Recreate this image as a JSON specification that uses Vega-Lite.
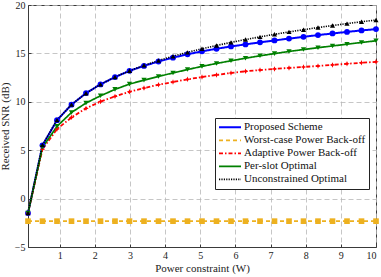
{
  "$schema": "https://vega.github.io/schema/vega-lite/v6.json",
  "width": 348,
  "height": 242,
  "autosize": {"type": "none"},
  "padding": {"left": 28, "top": 5, "right": 5, "bottom": 30},
  "background": "white",
  "config": {
    "font": "Liberation Serif",
    "view": {"stroke": "#3a3a3a", "strokeWidth": 1},
    "axis": {
      "domainColor": "#3a3a3a",
      "tickColor": "#3a3a3a",
      "gridColor": "#b8b8b8",
      "gridDash": [5, 3],
      "gridWidth": 0.8,
      "labelFont": "Liberation Serif",
      "labelFontSize": 10,
      "labelColor": "#222",
      "titleFont": "Liberation Serif",
      "titleFontSize": 11,
      "titleFontWeight": "normal",
      "titleColor": "#222",
      "tickSize": -3
    }
  },
  "data": {
    "values": [
      {"s": "Proposed Scheme", "p": 0.1, "snr": -1.5},
      {"s": "Proposed Scheme", "p": 0.5125, "snr": 5.5},
      {"s": "Proposed Scheme", "p": 0.925, "snr": 8.1},
      {"s": "Proposed Scheme", "p": 1.3375, "snr": 9.7},
      {"s": "Proposed Scheme", "p": 1.75, "snr": 10.9},
      {"s": "Proposed Scheme", "p": 2.1625, "snr": 11.8},
      {"s": "Proposed Scheme", "p": 2.575, "snr": 12.55},
      {"s": "Proposed Scheme", "p": 2.9875, "snr": 13.2},
      {"s": "Proposed Scheme", "p": 3.4, "snr": 13.71},
      {"s": "Proposed Scheme", "p": 3.8125, "snr": 14.16},
      {"s": "Proposed Scheme", "p": 4.225, "snr": 14.56},
      {"s": "Proposed Scheme", "p": 4.6375, "snr": 14.91},
      {"s": "Proposed Scheme", "p": 5.05, "snr": 15.21},
      {"s": "Proposed Scheme", "p": 5.4625, "snr": 15.48},
      {"s": "Proposed Scheme", "p": 5.875, "snr": 15.72},
      {"s": "Proposed Scheme", "p": 6.2875, "snr": 15.93},
      {"s": "Proposed Scheme", "p": 6.7, "snr": 16.14},
      {"s": "Proposed Scheme", "p": 7.1125, "snr": 16.34},
      {"s": "Proposed Scheme", "p": 7.525, "snr": 16.53},
      {"s": "Proposed Scheme", "p": 7.9375, "snr": 16.71},
      {"s": "Proposed Scheme", "p": 8.35, "snr": 16.89},
      {"s": "Proposed Scheme", "p": 8.7625, "snr": 17.06},
      {"s": "Proposed Scheme", "p": 9.175, "snr": 17.22},
      {"s": "Proposed Scheme", "p": 9.5875, "snr": 17.37},
      {"s": "Proposed Scheme", "p": 10, "snr": 17.51},
      {"s": "Worst-case Power Back-off", "p": 0.1, "snr": -2.33},
      {"s": "Worst-case Power Back-off", "p": 0.5125, "snr": -2.33},
      {"s": "Worst-case Power Back-off", "p": 0.925, "snr": -2.33},
      {"s": "Worst-case Power Back-off", "p": 1.3375, "snr": -2.33},
      {"s": "Worst-case Power Back-off", "p": 1.75, "snr": -2.33},
      {"s": "Worst-case Power Back-off", "p": 2.1625, "snr": -2.33},
      {"s": "Worst-case Power Back-off", "p": 2.575, "snr": -2.33},
      {"s": "Worst-case Power Back-off", "p": 2.9875, "snr": -2.33},
      {"s": "Worst-case Power Back-off", "p": 3.4, "snr": -2.33},
      {"s": "Worst-case Power Back-off", "p": 3.8125, "snr": -2.33},
      {"s": "Worst-case Power Back-off", "p": 4.225, "snr": -2.33},
      {"s": "Worst-case Power Back-off", "p": 4.6375, "snr": -2.33},
      {"s": "Worst-case Power Back-off", "p": 5.05, "snr": -2.33},
      {"s": "Worst-case Power Back-off", "p": 5.4625, "snr": -2.33},
      {"s": "Worst-case Power Back-off", "p": 5.875, "snr": -2.33},
      {"s": "Worst-case Power Back-off", "p": 6.2875, "snr": -2.33},
      {"s": "Worst-case Power Back-off", "p": 6.7, "snr": -2.33},
      {"s": "Worst-case Power Back-off", "p": 7.1125, "snr": -2.33},
      {"s": "Worst-case Power Back-off", "p": 7.525, "snr": -2.33},
      {"s": "Worst-case Power Back-off", "p": 7.9375, "snr": -2.33},
      {"s": "Worst-case Power Back-off", "p": 8.35, "snr": -2.33},
      {"s": "Worst-case Power Back-off", "p": 8.7625, "snr": -2.33},
      {"s": "Worst-case Power Back-off", "p": 9.175, "snr": -2.33},
      {"s": "Worst-case Power Back-off", "p": 9.5875, "snr": -2.33},
      {"s": "Worst-case Power Back-off", "p": 10, "snr": -2.33},
      {"s": "Adaptive Power Back-off", "p": 0.1, "snr": -1.5},
      {"s": "Adaptive Power Back-off", "p": 0.5125, "snr": 5.1},
      {"s": "Adaptive Power Back-off", "p": 0.925, "snr": 7.18},
      {"s": "Adaptive Power Back-off", "p": 1.3375, "snr": 8.39},
      {"s": "Adaptive Power Back-off", "p": 1.75, "snr": 9.32},
      {"s": "Adaptive Power Back-off", "p": 2.1625, "snr": 10.02},
      {"s": "Adaptive Power Back-off", "p": 2.575, "snr": 10.56},
      {"s": "Adaptive Power Back-off", "p": 2.9875, "snr": 11.03},
      {"s": "Adaptive Power Back-off", "p": 3.4, "snr": 11.42},
      {"s": "Adaptive Power Back-off", "p": 3.8125, "snr": 11.76},
      {"s": "Adaptive Power Back-off", "p": 4.225, "snr": 12.05},
      {"s": "Adaptive Power Back-off", "p": 4.6375, "snr": 12.32},
      {"s": "Adaptive Power Back-off", "p": 5.05, "snr": 12.56},
      {"s": "Adaptive Power Back-off", "p": 5.4625, "snr": 12.78},
      {"s": "Adaptive Power Back-off", "p": 5.875, "snr": 12.98},
      {"s": "Adaptive Power Back-off", "p": 6.2875, "snr": 13.15},
      {"s": "Adaptive Power Back-off", "p": 6.7, "snr": 13.28},
      {"s": "Adaptive Power Back-off", "p": 7.1125, "snr": 13.4},
      {"s": "Adaptive Power Back-off", "p": 7.525, "snr": 13.5},
      {"s": "Adaptive Power Back-off", "p": 7.9375, "snr": 13.6},
      {"s": "Adaptive Power Back-off", "p": 8.35, "snr": 13.7},
      {"s": "Adaptive Power Back-off", "p": 8.7625, "snr": 13.81},
      {"s": "Adaptive Power Back-off", "p": 9.175, "snr": 13.93},
      {"s": "Adaptive Power Back-off", "p": 9.5875, "snr": 14.03},
      {"s": "Adaptive Power Back-off", "p": 10, "snr": 14.13},
      {"s": "Per-slot Optimal", "p": 0.1, "snr": -1.5},
      {"s": "Per-slot Optimal", "p": 0.5125, "snr": 5.3},
      {"s": "Per-slot Optimal", "p": 0.925, "snr": 7.46},
      {"s": "Per-slot Optimal", "p": 1.3375, "snr": 8.9},
      {"s": "Per-slot Optimal", "p": 1.75, "snr": 9.87},
      {"s": "Per-slot Optimal", "p": 2.1625, "snr": 10.62},
      {"s": "Per-slot Optimal", "p": 2.575, "snr": 11.28},
      {"s": "Per-slot Optimal", "p": 2.9875, "snr": 11.83},
      {"s": "Per-slot Optimal", "p": 3.4, "snr": 12.24},
      {"s": "Per-slot Optimal", "p": 3.8125, "snr": 12.62},
      {"s": "Per-slot Optimal", "p": 4.225, "snr": 12.98},
      {"s": "Per-slot Optimal", "p": 4.6375, "snr": 13.33},
      {"s": "Per-slot Optimal", "p": 5.05, "snr": 13.66},
      {"s": "Per-slot Optimal", "p": 5.4625, "snr": 13.96},
      {"s": "Per-slot Optimal", "p": 5.875, "snr": 14.24},
      {"s": "Per-slot Optimal", "p": 6.2875, "snr": 14.5},
      {"s": "Per-slot Optimal", "p": 6.7, "snr": 14.75},
      {"s": "Per-slot Optimal", "p": 7.1125, "snr": 14.98},
      {"s": "Per-slot Optimal", "p": 7.525, "snr": 15.2},
      {"s": "Per-slot Optimal", "p": 7.9375, "snr": 15.4},
      {"s": "Per-slot Optimal", "p": 8.35, "snr": 15.59},
      {"s": "Per-slot Optimal", "p": 8.7625, "snr": 15.77},
      {"s": "Per-slot Optimal", "p": 9.175, "snr": 15.95},
      {"s": "Per-slot Optimal", "p": 9.5875, "snr": 16.13},
      {"s": "Per-slot Optimal", "p": 10, "snr": 16.3},
      {"s": "Unconstrained Optimal", "p": 0.1, "snr": -1.5},
      {"s": "Unconstrained Optimal", "p": 0.5125, "snr": 5.55},
      {"s": "Unconstrained Optimal", "p": 0.925, "snr": 8.11},
      {"s": "Unconstrained Optimal", "p": 1.3375, "snr": 9.71},
      {"s": "Unconstrained Optimal", "p": 1.75, "snr": 10.88},
      {"s": "Unconstrained Optimal", "p": 2.1625, "snr": 11.8},
      {"s": "Unconstrained Optimal", "p": 2.575, "snr": 12.56},
      {"s": "Unconstrained Optimal", "p": 2.9875, "snr": 13.2},
      {"s": "Unconstrained Optimal", "p": 3.4, "snr": 13.77},
      {"s": "Unconstrained Optimal", "p": 3.8125, "snr": 14.26},
      {"s": "Unconstrained Optimal", "p": 4.225, "snr": 14.71},
      {"s": "Unconstrained Optimal", "p": 4.6375, "snr": 15.11},
      {"s": "Unconstrained Optimal", "p": 5.05, "snr": 15.48},
      {"s": "Unconstrained Optimal", "p": 5.4625, "snr": 15.82},
      {"s": "Unconstrained Optimal", "p": 5.875, "snr": 16.14},
      {"s": "Unconstrained Optimal", "p": 6.2875, "snr": 16.43},
      {"s": "Unconstrained Optimal", "p": 6.7, "snr": 16.71},
      {"s": "Unconstrained Optimal", "p": 7.1125, "snr": 16.97},
      {"s": "Unconstrained Optimal", "p": 7.525, "snr": 17.22},
      {"s": "Unconstrained Optimal", "p": 7.9375, "snr": 17.45},
      {"s": "Unconstrained Optimal", "p": 8.35, "snr": 17.67},
      {"s": "Unconstrained Optimal", "p": 8.7625, "snr": 17.88},
      {"s": "Unconstrained Optimal", "p": 9.175, "snr": 18.08},
      {"s": "Unconstrained Optimal", "p": 9.5875, "snr": 18.27},
      {"s": "Unconstrained Optimal", "p": 10, "snr": 18.45}
    ]
  },
  "encoding": {
    "x": {
      "field": "p", "type": "quantitative",
      "scale": {"domain": [0.1, 10], "nice": false, "zero": false},
      "axis": {"values": [1, 2, 3, 4, 5, 6, 7, 8, 9, 10], "title": "Power constraint (W)", "labelPadding": 6, "titlePadding": 2}
    },
    "y": {
      "field": "snr", "type": "quantitative",
      "scale": {"domain": [-5, 20], "nice": false, "zero": false},
      "axis": {"values": [-5, 0, 5, 10, 15, 20], "title": "Received SNR (dB)", "labelPadding": 6, "titlePadding": 4}
    }
  },
  "layer": [
    {
      "mark": {"type": "line"},
      "encoding": {
        "color": {
          "field": "s", "type": "nominal",
          "scale": {
            "domain": ["Proposed Scheme", "Worst-case Power Back-off", "Adaptive Power Back-off", "Per-slot Optimal", "Unconstrained Optimal"],
            "range": ["#0000ff", "#edb120", "#ff0000", "#008000", "#000000"]
          },
          "legend": {
            "title": null,
            "orient": "none",
            "legendX": 187,
            "legendY": 113,
            "fillColor": "white",
            "strokeColor": "#222",
            "padding": 3,
            "labelFont": "Liberation Serif",
            "labelFontSize": 11,
            "labelColor": "#111",
            "labelOffset": 2,
            "rowPadding": 0,
            "clipHeight": 12.7,
            "symbolType": "stroke",
            "symbolSize": 484,
            "symbolStrokeWidth": 1.5,
            "symbolOpacity": 1
          }
        },
        "strokeDash": {
          "field": "s", "type": "nominal",
          "scale": {
            "domain": ["Proposed Scheme", "Worst-case Power Back-off", "Adaptive Power Back-off", "Per-slot Optimal", "Unconstrained Optimal"],
            "range": [[1, 0], [4, 3], [4, 2, 1.5, 2], [1, 0], [1.2, 1.2]]
          },
          "legend": {
            "title": null,
            "orient": "none",
            "legendX": 187,
            "legendY": 113,
            "symbolType": "stroke"
          }
        },
        "strokeWidth": {
          "field": "s", "type": "nominal", "legend": null,
          "scale": {
            "domain": ["Proposed Scheme", "Worst-case Power Back-off", "Adaptive Power Back-off", "Per-slot Optimal", "Unconstrained Optimal"],
            "range": [2, 1.6, 1.2, 1.6, 1.3]
          }
        }
      }
    },
    {
      "mark": {"type": "point", "filled": true, "opacity": 1},
      "encoding": {
        "fill": {
          "field": "s", "type": "nominal",
          "scale": {
            "domain": ["Proposed Scheme", "Worst-case Power Back-off", "Adaptive Power Back-off", "Per-slot Optimal", "Unconstrained Optimal", "zz"],
            "range": ["#0000ff", "#edb120", "#ff0000", "#008000", "#000000", "transparent"]
          },
          "legend": {
            "title": null,
            "orient": "none",
            "legendX": 195,
            "legendY": 113,
            "padding": 3,
            "labelFont": "Liberation Serif",
            "labelFontSize": 11,
            "labelColor": "transparent",
            "labelOpacity": 0,
            "labelOffset": 2,
            "rowPadding": 0,
            "clipHeight": 12.7,
            "symbolSize": 36,
            "symbolStrokeWidth": 0,
            "symbolOpacity": 1
          }
        },
        "shape": {
          "field": "s", "type": "nominal",
          "scale": {
            "domain": ["Proposed Scheme", "Worst-case Power Back-off", "Adaptive Power Back-off", "Per-slot Optimal", "Unconstrained Optimal", "zz"],
            "range": ["circle", "square", "M0,-1L0.3,-0.3L1,0L0.3,0.3L0,1L-0.3,0.3L-1,0L-0.3,-0.3Z", "triangle-down", "triangle-up", "circle"]
          },
          "legend": {
            "title": null,
            "orient": "none",
            "legendX": 195,
            "legendY": 113
          }
        },
        "size": {
          "field": "s", "type": "nominal", "legend": null,
          "scale": {
            "domain": ["Proposed Scheme", "Worst-case Power Back-off", "Adaptive Power Back-off", "Per-slot Optimal", "Unconstrained Optimal", "zz"],
            "range": [34, 24, 50, 36, 36, 0]
          }
        }
      }
    }
  ]
}
